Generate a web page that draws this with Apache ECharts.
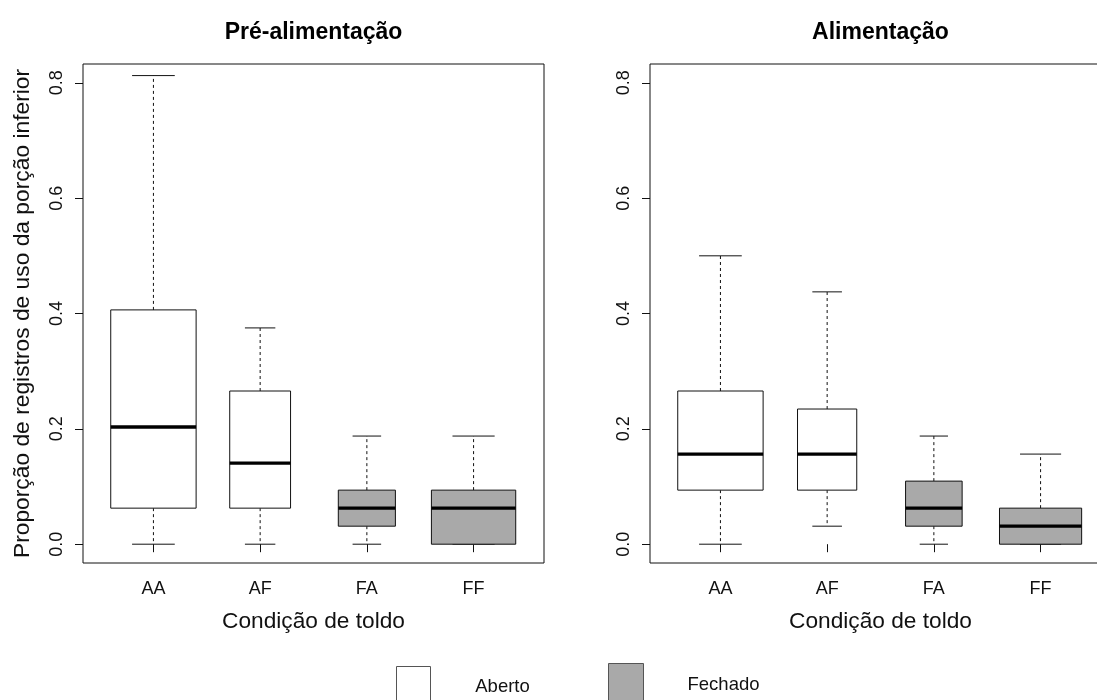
<!DOCTYPE html>
<html>
<head>
<meta charset="utf-8">
<script src="https://cdn.jsdelivr.net/npm/echarts@6/dist/echarts.min.js"></script>
<style>html,body{margin:0;padding:0;background:#fff}#c{width:1097px;height:700px}</style>
</head>
<body>
<div id="c"></div>
<script>
// ---- data ----
const categories = ['AA', 'AF', 'FA', 'FF'];
const yTicks = [0, 0.2, 0.4, 0.6, 0.8];
const panelTitles = ['Pré-alimentação', 'Alimentação'];
const legendLabels = ['Aberto', 'Fechado'];

// Pré-alimentação
const preMin = [0, 0, 0, 0];
const preQ1  = [0.0625, 0.0625, 0.03125, 0];
const preMed = [0.203125, 0.140625, 0.0625, 0.0625];
const preQ3  = [0.40625, 0.265625, 0.09375, 0.09375];
const preMax = [0.8125, 0.375, 0.1875, 0.1875];
const preRelWidth = [0.8, 0.57, 0.535, 0.79];   // varwidth boxes

// Alimentação
const aliMin = [0, 0.03125, 0, 0];
const aliQ1  = [0.09375, 0.09375, 0.03125, 0];
const aliMed = [0.15625, 0.15625, 0.0625, 0.03125];
const aliQ3  = [0.265625, 0.234375, 0.109375, 0.0625];
const aliMax = [0.5, 0.4375, 0.1875, 0.15625];
const aliRelWidth = [0.8, 0.555, 0.53, 0.77];

// ---- styles ----
const FONT = '"Liberation Sans", Arial, Helvetica, sans-serif';
const INK = '#111';
const GRAY = '#a9a9a9';
const fillFor = (cat) => cat[0] === 'A' ? '#ffffff' : GRAY;

function build(mn, q1, md, q3, mx, rw) {
  return categories.map((c, i) => [i + 1, mn[i], q1[i], md[i], q3[i], mx[i], rw[i]]);
}

function renderItem(params, api) {
  const x = api.value(0);
  const w = api.size([api.value(6), 0])[0];
  const pMin = api.coord([x, api.value(1)]);
  const pQ1 = api.coord([x, api.value(2)]);
  const pMed = api.coord([x, api.value(3)]);
  const pQ3 = api.coord([x, api.value(4)]);
  const pMax = api.coord([x, api.value(5)]);
  const cx = pMin[0];
  const fill = fillFor(categories[x - 1]);
  const dashed = { stroke: INK, lineWidth: 1, lineDash: [3, 3] };
  const solid = { stroke: INK, lineWidth: 1 };
  return {
    type: 'group',
    children: [
      { type: 'line', shape: { x1: cx, y1: pQ3[1], x2: cx, y2: pMax[1] }, style: dashed },
      { type: 'line', shape: { x1: cx, y1: pQ1[1], x2: cx, y2: pMin[1] }, style: dashed },
      { type: 'line', shape: { x1: cx - w / 4, y1: pMax[1], x2: cx + w / 4, y2: pMax[1] }, style: solid },
      { type: 'line', shape: { x1: cx - w / 4, y1: pMin[1], x2: cx + w / 4, y2: pMin[1] }, style: solid },
      { type: 'rect', shape: { x: cx - w / 2, y: pQ3[1], width: w, height: pQ1[1] - pQ3[1] },
        style: { fill: fill, stroke: INK, lineWidth: 1 } },
      { type: 'line', shape: { x1: cx - w / 2, y1: pMed[1], x2: cx + w / 2, y2: pMed[1] },
        style: { stroke: '#000', lineWidth: 3.4 } }
    ]
  };
}

const grids = [
  { left: 83, top: 64, width: 461, height: 499 },
  { left: 650, top: 64, width: 461, height: 499 }
].map(g => Object.assign(g, { show: true, borderColor: INK, borderWidth: 1, backgroundColor: 'transparent',
  containLabel: false, outerBoundsMode: 'none' }));

function xAxis(i) {
  return {
    type: 'value', gridIndex: i, min: 0.34, max: 4.66,
    name: 'Condição de toldo', nameLocation: 'middle', nameGap: 47,
    nameTextStyle: { fontSize: 22.7, color: INK, fontFamily: FONT },
    axisLine: { show: false },
    splitLine: { show: false },
    axisTick: { show: true, inside: false, length: 8, customValues: categories.map((c, k) => k + 1), lineStyle: { color: INK } },
    axisLabel: { show: true, margin: 17, fontSize: 18, color: INK, fontFamily: FONT,
      customValues: categories.map((c, k) => k + 1),
      formatter: (v) => categories[Math.round(v) - 1] || '' }
  };
}
function yAxis(i) {
  const ax = {
    type: 'value', gridIndex: i, min: -0.0326, max: 0.8326,
    axisLine: { show: false },
    splitLine: { show: false },
    axisTick: { show: true, inside: false, length: 8, customValues: yTicks, lineStyle: { color: INK } },
    axisLabel: { show: true, rotate: 90, margin: 17, fontSize: 18, color: INK, fontFamily: FONT,
      customValues: yTicks, formatter: (v) => v.toFixed(1) }
  };
  if (i === 0) {
    Object.assign(ax, {
      name: 'Proporção de registros de uso da porção inferior', nameLocation: 'middle', nameGap: 49,
      nameRotate: 90,
      nameTextStyle: { fontSize: 22.8, color: INK, fontFamily: FONT }
    });
  }
  return ax;
}

const chart = echarts.init(document.getElementById('c'), null, { renderer: 'canvas' });
chart.setOption({
  animation: false,
  backgroundColor: '#fff',
  title: [
    { text: panelTitles[0], left: 313.5, top: 21, textAlign: 'center', padding: 0,
      textStyle: { fontSize: 23, fontWeight: 'bold', color: '#000', fontFamily: FONT } },
    { text: panelTitles[1], left: 880.5, top: 21, textAlign: 'center', padding: 0,
      textStyle: { fontSize: 23, fontWeight: 'bold', color: '#000', fontFamily: FONT } }
  ],
  grid: grids,
  xAxis: [xAxis(0), xAxis(1)],
  yAxis: [yAxis(0), yAxis(1)],
  series: [
    { type: 'custom', name: panelTitles[0], xAxisIndex: 0, yAxisIndex: 0, renderItem: renderItem,
      data: build(preMin, preQ1, preMed, preQ3, preMax, preRelWidth), clip: false },
    { type: 'custom', name: panelTitles[1], xAxisIndex: 1, yAxisIndex: 1, renderItem: renderItem,
      data: build(aliMin, aliQ1, aliMed, aliQ3, aliMax, aliRelWidth), clip: false }
  ],
  graphic: [
    { type: 'rect', shape: { x: 396.5, y: 666.5, width: 34, height: 50 }, style: { fill: '#fff', stroke: '#555', lineWidth: 1 } },
    { type: 'rect', shape: { x: 608.5, y: 663.5, width: 35, height: 50 }, style: { fill: GRAY, stroke: '#555', lineWidth: 1 } },
    { type: 'text', x: 502.5, y: 687, style: { text: legendLabels[0], fontSize: 18.5, fontFamily: FONT, fill: INK, align: 'center', verticalAlign: 'middle' } },
    { type: 'text', x: 723.5, y: 685, style: { text: legendLabels[1], fontSize: 18.5, fontFamily: FONT, fill: INK, align: 'center', verticalAlign: 'middle' } }
  ]
});
</script>
</body>
</html>
